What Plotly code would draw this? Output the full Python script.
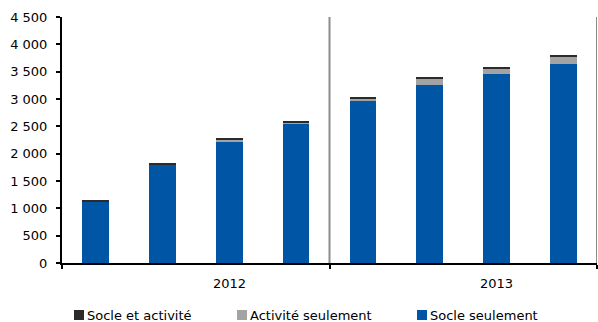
import plotly.graph_objects as go

# Quarterly counts, 2012 and 2013
years = ["2012", "2013"]
quarters = ["T1", "T2", "T3", "T4", "T1", "T2", "T3", "T4"]
socle_seul = [1120, 1800, 2220, 2545, 2960, 3250, 3450, 3640]
activite_seul = [10, 10, 30, 30, 50, 120, 105, 135]
socle_et_activite = [20, 25, 25, 25, 30, 30, 35, 30]

series_names = ["Socle seulement", "Activité seulement", "Socle et activité"]
series_values = [socle_seul, activite_seul, socle_et_activite]
series_colors = ["#0055A5", "#A3A3A3", "#2B2B2B"]

FONT = "DejaVu Sans"
W, H = 598, 322
ML, MR, MT, MB = 62, 1, 17, 59
PW, PH = W - ML - MR, H - MT - MB

xpos = list(range(len(quarters)))

fig = go.Figure()
for name, vals, col in zip(series_names, series_values, series_colors):
    fig.add_trace(go.Bar(
        x=xpos, y=vals, name=name, width=0.4,
        marker=dict(color=col, line=dict(width=0)),
        showlegend=False,
    ))

# gray separators between years and at the right edge
for xv in (3.5, 7.5):
    fig.add_shape(type="line", xref="x", yref="y", x0=xv, x1=xv, y0=0, y1=4500,
                  line=dict(color="#8C8C8C", width=2), layer="above")

# year labels under the axis
for i, yr in enumerate(years):
    fig.add_annotation(x=2 + 4 * i, y=-20 / PH, xref="x", yref="paper",
                       text=yr, showarrow=False, yanchor="middle",
                       font=dict(family=FONT, size=13, color="#000000"))

# legend: square swatch + label, in legend order
legend_items = [("Socle et activité", "#2B2B2B", 74),
                ("Activité seulement", "#A3A3A3", 237),
                ("Socle seulement", "#0055A5", 417)]
ly = 315
for text, col, px in legend_items:
    x0 = (px - ML) / PW
    x1 = (px + 10 - ML) / PW
    y0 = (H - MB - (ly + 5)) / PH
    y1 = (H - MB - (ly - 5)) / PH
    fig.add_shape(type="rect", xref="paper", yref="paper",
                  x0=x0, x1=x1, y0=y0, y1=y1,
                  fillcolor=col, line=dict(width=0))
    fig.add_annotation(x=(px + 11 - ML) / PW, y=(H - MB - ly) / PH,
                       xref="paper", yref="paper", text=text, showarrow=False,
                       xanchor="left", yanchor="middle",
                       font=dict(family=FONT, size=13, color="#000000"))

fig.update_layout(
    width=W, height=H,
    margin=dict(l=ML, r=MR, t=MT, b=MB, pad=0),
    paper_bgcolor="white", plot_bgcolor="white",
    barmode="stack", bargap=0.6,
    separators=", ",
    font=dict(family=FONT, size=13, color="#000000"),
    xaxis=dict(range=[-0.5, 7.5], tickvals=[-0.5, 3.5, 7.5], ticktext=["", "", ""],
               ticks="outside", ticklen=4, tickwidth=2, tickcolor="#000000",
               showline=True, linecolor="#000000", linewidth=2,
               showgrid=False, zeroline=False, fixedrange=True),
    yaxis=dict(range=[0, 4500], dtick=500, tick0=0, separatethousands=True,
               tickformat=",d",
               ticks="outside", ticklen=4, tickwidth=2, tickcolor="#000000",
               ticklabelstandoff=6,
               showline=True, linecolor="#000000", linewidth=2,
               showgrid=False, zeroline=False, fixedrange=True,
               tickfont=dict(family=FONT, size=13, color="#000000")),
)

fig.write_html("out.html", config={"displayModeBar": False})
